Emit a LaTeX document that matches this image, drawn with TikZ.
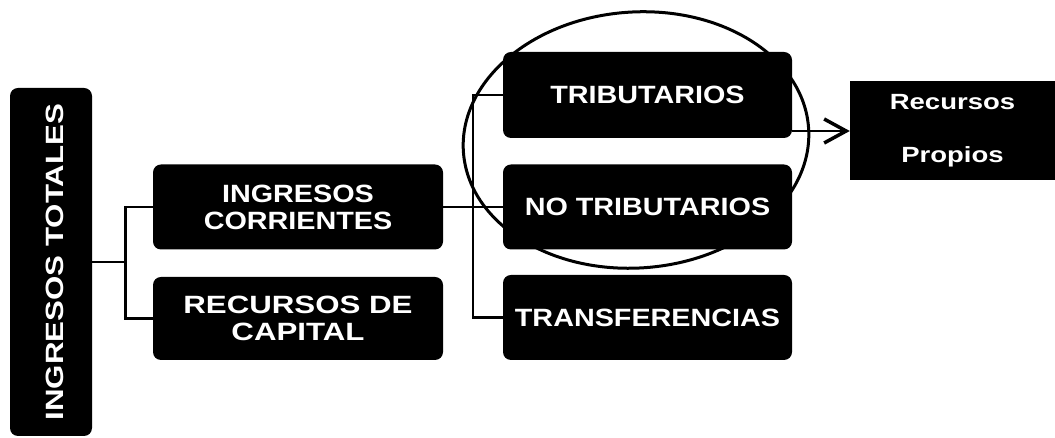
\documentclass[tikz,border=0pt]{standalone}
\usepackage{fontspec}
\newfontfamily\boxfont{Liberation Sans}[FakeStretch=1.15]
\newfontfamily\widefont{Liberation Sans}[FakeStretch=1.25]
\usetikzlibrary{arrows.meta}

\begin{document}
\begin{tikzpicture}[x=1pt,y=1pt,
    darkbox/.style = {fill=black,text=white,rounded corners=8pt,inner sep=0pt,align=center,
      minimum width=290pt,minimum height=85pt,font=\boxfont\bfseries\fontsize{25}{27}\selectfont},
    link/.style = {line width=2.8pt}]
    \useasboundingbox (0,0) rectangle (1055,438);

    \node[darkbox,minimum width=82pt,minimum height=348pt,
      font=\widefont\bfseries\fontsize{25}{27}\selectfont](ingresosTotales) at (51,176)
      {\rotatebox{90}{\raisebox{-4pt}[\height][\depth]{INGRESOS TOTALES}}};
    \node[darkbox](ingresosCorrientes) at (298,231) {INGRESOS\\CORRIENTES};
    \node[darkbox,minimum height=83pt,
      font=\widefont\bfseries\fontsize{25}{27}\selectfont](recursosCapital) at (298,119.5) {RECURSOS DE\\CAPITAL};
    \node[darkbox,minimum width=289pt,minimum height=86pt](tributarios) at (647.5,343) {TRIBUTARIOS};
    \node[darkbox,minimum width=289pt](noTributarios) at (647.5,231) {NO TRIBUTARIOS};
    \node[darkbox,minimum width=289pt](transferencias) at (647.5,120.5) {TRANSFERENCIAS};
    \node[darkbox,rounded corners=0pt,minimum width=205pt,minimum height=99pt,
      font=\widefont\bfseries\fontsize{22}{53}\selectfont](recursosPropios) at (952.5,307) {Recursos\\Propios};

    \draw [link] (ingresosTotales.east) -- ++(33,0) coordinate (splitTotal);
    \draw [link] (ingresosCorrientes.west) -| (splitTotal) |- (recursosCapital.west);

    \draw [link] (ingresosCorrientes.east) -- (noTributarios.west);
    \coordinate (splitCorrientes) at (473,231);
    \draw [link] (tributarios.west) -| (splitCorrientes) |- (transferencias.west);

    \draw [line width=3pt,rotate around={4:(636,298)}] (636,298) ellipse [x radius=173,y radius=128];
    \draw [link,-{Straight Barb[length=22pt,width=24pt,line width=3.5pt]}] (recursosPropios.west -| tributarios.east) -- (recursosPropios.west);
\end{tikzpicture}
\end{document}
